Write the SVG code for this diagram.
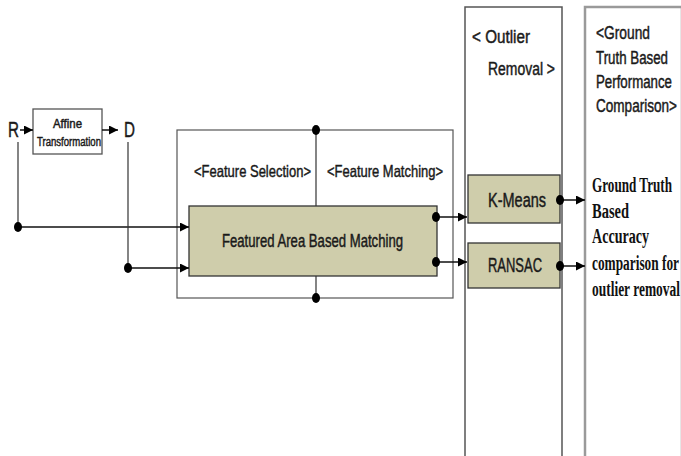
<svg xmlns="http://www.w3.org/2000/svg" width="681" height="456" viewBox="0 0 681 456">
<defs>
<style>
.bg{fill:#ffffff}
.col{fill:#ffffff;stroke:#555555;stroke-width:1.5}
.col2{fill:#ffffff;stroke:#9a9a9a;stroke-width:2.5}
.frame{fill:none;stroke:#555555;stroke-width:1.2}
.box{fill:#cfcdab;stroke:#333333;stroke-width:1.3}
.abox{fill:#ffffff;stroke:#555555;stroke-width:1.3}
.ln{fill:none;stroke:#111111;stroke-width:1.5}
.ln2{fill:none;stroke:#333333;stroke-width:1.2}
.dot{fill:#000000}
.t{font-family:"Liberation Sans Narrow","Liberation Sans",Arial,sans-serif;fill:#1a1a1a;stroke:#1a1a1a;stroke-width:0.45}
.s{font-family:"Liberation Serif","Times New Roman",serif;font-weight:bold;fill:#111111}
</style>
<marker id="ah" viewBox="0 0 10 10" refX="10" refY="5" markerWidth="9" markerHeight="9" markerUnits="userSpaceOnUse" orient="auto">
<path d="M0,0 L10,5 L0,10 Z" fill="#000000"/>
</marker>
</defs>
<rect class="bg" x="0" y="0" width="681" height="456"/>

<g id="outlier-column">
<rect class="col" x="465" y="7" width="97" height="460"/>
<text class="t" x="472" y="43" font-size="17.5" textLength="58" lengthAdjust="spacingAndGlyphs">&lt; Outlier</text>
<text class="t" x="488" y="75" font-size="17.5" textLength="67" lengthAdjust="spacingAndGlyphs">Removal &gt;</text>
</g>

<g id="groundtruth-column">
<rect class="col2" x="585" y="7" width="97" height="460"/>
<text class="t" x="596" y="39" font-size="17.5" textLength="54" lengthAdjust="spacingAndGlyphs">&lt;Ground</text>
<text class="t" x="596" y="64" font-size="17.5" textLength="72" lengthAdjust="spacingAndGlyphs">Truth Based</text>
<text class="t" x="596" y="88" font-size="17.5" textLength="76" lengthAdjust="spacingAndGlyphs">Performance</text>
<text class="t" x="596" y="112" font-size="17.5" textLength="81" lengthAdjust="spacingAndGlyphs">Comparison&gt;</text>
</g>

<g id="frame">
<rect class="frame" x="177" y="130" width="276" height="168"/>
<text class="t" x="194" y="177" font-size="17" textLength="117" lengthAdjust="spacingAndGlyphs">&lt;Feature Selection&gt;</text>
<text class="t" x="327" y="177" font-size="17" textLength="116" lengthAdjust="spacingAndGlyphs">&lt;Feature Matching&gt;</text>
</g>

<g id="R">
<text class="t" x="8" y="137" font-size="22" textLength="11" lengthAdjust="spacingAndGlyphs">R</text>
</g>
<g id="affine">
<rect class="abox" x="33" y="109" width="69" height="45"/>
<text class="t" x="53" y="128" font-size="12" stroke-width="0.25" textLength="29" lengthAdjust="spacingAndGlyphs">Affine</text>
<text class="t" x="37" y="146" font-size="12" stroke-width="0.25" textLength="64" lengthAdjust="spacingAndGlyphs">Transformation</text>
</g>
<g id="D">
<text class="t" x="124" y="137" font-size="22" textLength="11" lengthAdjust="spacingAndGlyphs">D</text>
</g>

<g id="matching">
<rect class="box" x="189" y="206" width="248" height="70"/>
<text class="t" x="222" y="247" font-size="17.5" textLength="181" lengthAdjust="spacingAndGlyphs">Featured Area Based Matching</text>
</g>

<g id="kmeans">
<rect class="box" x="468" y="175" width="92" height="48"/>
<text class="t" x="488" y="207" font-size="20" textLength="58" lengthAdjust="spacingAndGlyphs">K-Means</text>
</g>
<g id="ransac">
<rect class="box" x="468" y="243" width="92" height="45"/>
<text class="t" x="488" y="272" font-size="20" textLength="54" lengthAdjust="spacingAndGlyphs">RANSAC</text>
</g>

<g id="result">
<text class="s" x="592" y="192" font-size="20" textLength="80" lengthAdjust="spacingAndGlyphs">Ground Truth</text>
<text class="s" x="592" y="218" font-size="20" textLength="37" lengthAdjust="spacingAndGlyphs">Based</text>
<text class="s" x="592" y="243" font-size="20" textLength="57" lengthAdjust="spacingAndGlyphs">Accuracy</text>
<text class="s" x="592" y="270" font-size="20" textLength="87" lengthAdjust="spacingAndGlyphs">comparison for</text>
<text class="s" x="592" y="296" font-size="20" textLength="88" lengthAdjust="spacingAndGlyphs">outlier removal</text>
</g>

<g id="connectors">
<line class="ln" x1="20" y1="130" x2="33" y2="130" marker-end="url(#ah)"/>
<line class="ln" x1="102" y1="130" x2="118" y2="130" marker-end="url(#ah)"/>
<line class="ln2" x1="18" y1="142" x2="18" y2="227"/>
<line class="ln" x1="18" y1="227" x2="189" y2="227" marker-end="url(#ah)"/>
<ellipse class="dot" cx="18" cy="227" rx="4" ry="5"/>
<line class="ln2" x1="128" y1="142" x2="128" y2="268"/>
<line class="ln" x1="128" y1="268" x2="189" y2="268" marker-end="url(#ah)"/>
<ellipse class="dot" cx="128" cy="268" rx="4" ry="5"/>
<line class="ln2" x1="316" y1="130" x2="316" y2="206"/>
<ellipse class="dot" cx="316" cy="130" rx="4" ry="5"/>
<line class="ln2" x1="316" y1="276" x2="316" y2="298"/>
<ellipse class="dot" cx="316" cy="298" rx="4" ry="5"/>
<line class="ln" x1="436" y1="217" x2="467" y2="217" marker-end="url(#ah)"/>
<ellipse class="dot" cx="436" cy="217" rx="4" ry="5"/>
<line class="ln" x1="436" y1="262" x2="467" y2="262" marker-end="url(#ah)"/>
<ellipse class="dot" cx="436" cy="262" rx="4" ry="5"/>
<line class="ln" x1="560" y1="200" x2="585" y2="200" marker-end="url(#ah)"/>
<ellipse class="dot" cx="560" cy="200" rx="4" ry="5"/>
<line class="ln" x1="560" y1="266" x2="585" y2="266" marker-end="url(#ah)"/>
<ellipse class="dot" cx="560" cy="266" rx="4" ry="5"/>
</g>
</svg>
